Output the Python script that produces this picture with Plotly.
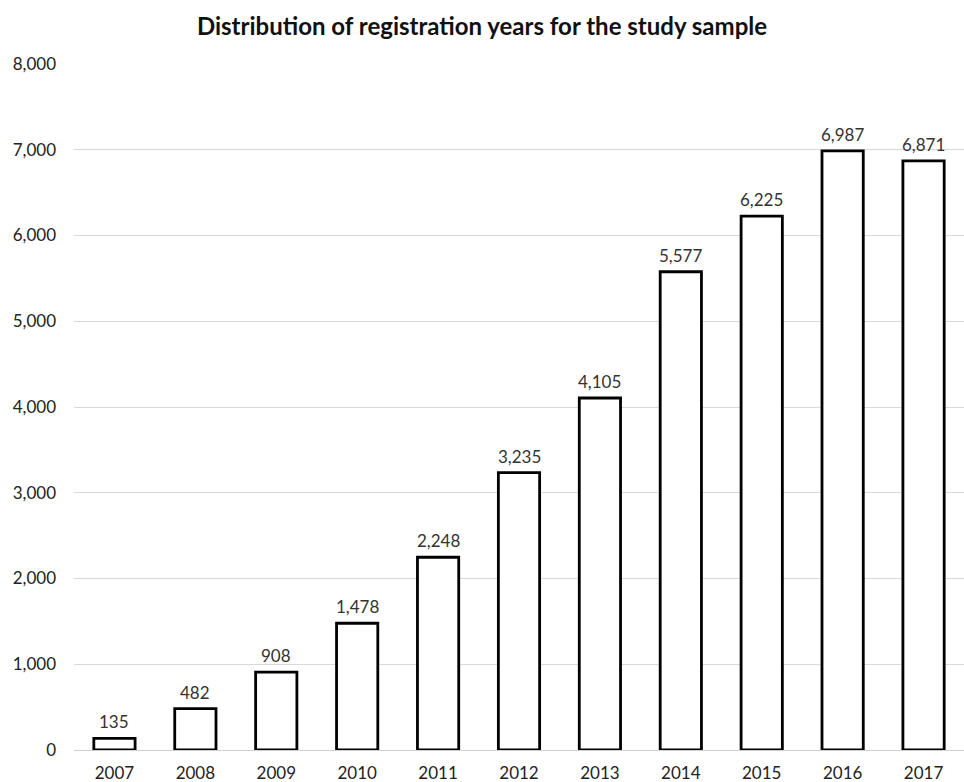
import plotly.graph_objects as go

years = ["2007", "2008", "2009", "2010", "2011", "2012", "2013", "2014", "2015", "2016", "2017"]
counts = [135, 482, 908, 1478, 2248, 3235, 4105, 5577, 6225, 6987, 6871]
ytick_vals = [0, 1000, 2000, 3000, 4000, 5000, 6000, 7000, 8000]
ytick_text = ["0", "1,000", "2,000", "3,000", "4,000", "5,000", "6,000", "7,000", "8,000"]

font_family = "Lato, 'Open Sans', sans-serif"

fig = go.Figure()
fig.add_trace(go.Bar(
    x=list(range(len(years))), y=counts,
    marker=dict(color="white", line=dict(color="black", width=2.8)),
    showlegend=False,
    hoverinfo="y",
))

for i, c in enumerate(counts):
    fig.add_annotation(
        x=i, y=c, text=f"{c:,}", showarrow=False,
        yanchor="bottom", yshift=4,
        font=dict(family=font_family, size=17, color="#333333"),
    )

fig.update_layout(
    width=964, height=782,
    margin=dict(l=74, r=0, t=64, b=32, autoexpand=False),
    paper_bgcolor="white", plot_bgcolor="white",
    bargap=0.49,
    title=dict(
        text="<b>Distribution of registration years for the study sample</b>",
        xref="container", x=0.5, xanchor="center", y=0.966, yanchor="middle",
        font=dict(family=font_family, size=24, color="#111111"),
    ),
    xaxis=dict(
        type="linear", range=[-0.5, len(years) - 0.5], automargin=False,
        tickvals=list(range(len(years))), ticktext=years,
        showgrid=False, showline=False, ticks="", zeroline=False,
        ticklabelstandoff=11,
        tickfont=dict(family=font_family, size=17, color="#222222"),
    ),
    yaxis=dict(
        range=[0, 8000], tickvals=ytick_vals, ticktext=ytick_text, automargin=False,
        showgrid=True, gridcolor="#d9d9d9", gridwidth=1,
        zeroline=True, zerolinecolor="#d0d0d0", zerolinewidth=1,
        showline=False, ticks="", ticklabelstandoff=17,
        tickfont=dict(family=font_family, size=17, color="#222222"),
    ),
)

fig.write_html(
    "out.html",
    config={"displayModeBar": False},
    post_script="document.body.style.margin='0';document.body.style.overflow='hidden';",
)
